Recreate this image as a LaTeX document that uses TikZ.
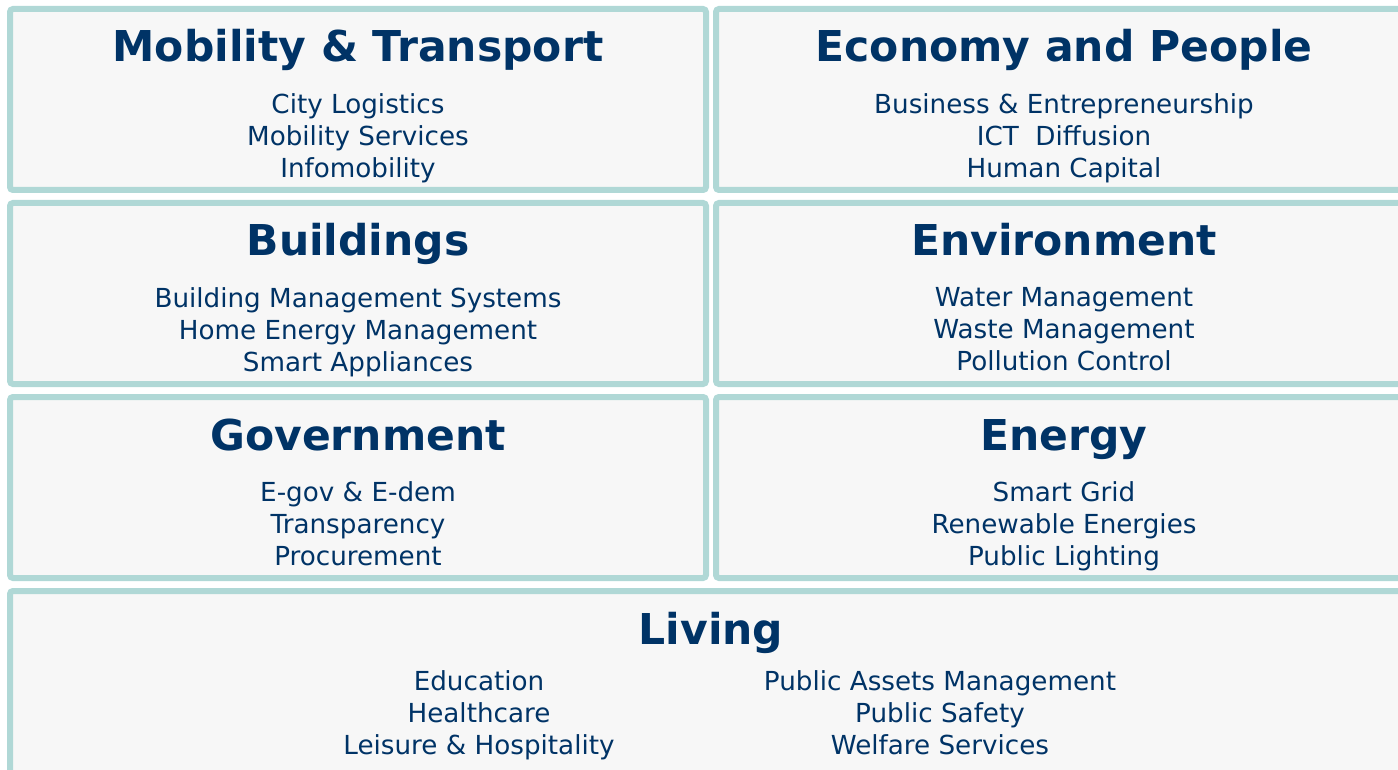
\documentclass[tikz,border=0pt]{standalone}
\usepackage{fontspec}
\setmainfont{DejaVu Sans}
\usepackage{xcolor}
\usetikzlibrary{positioning}

\definecolor{boxline}{HTML}{B0D8D6}
\definecolor{boxfill}{HTML}{F7F7F7}
\definecolor{navy}{HTML}{003366}

\begin{document}
\begin{tikzpicture}[x=1pt,y=-1pt,
                    area/.style={draw=boxline,fill=boxfill,line width=6pt,rounded corners=3pt},
                    title/.style={anchor=base,text=navy,inner sep=0pt,font=\fontsize{42.5}{46}\selectfont\bfseries},
                    items/.style={anchor=north,text=navy,inner sep=0pt,align=center,font=\fontsize{26.2}{32}\selectfont}]

  \useasboundingbox (0,0) rectangle (1398,770);
  \clip (0,0) rectangle (1398,770);

  % boxes
  \draw[area] (10,9) rectangle (706,190);
  \draw[area] (716,9) rectangle (1420,190);
  \draw[area] (10,203) rectangle (706,384);
  \draw[area] (716,203) rectangle (1420,384);
  \draw[area] (10,397) rectangle (706,578);
  \draw[area] (716,397) rectangle (1420,578);
  \draw[area] (10,591) rectangle (1420,800);

  % titles
  \node[title] (mob) at (358,62) {Mobility \& Transport};
  \node[title] (eco) at (1064,62) {Economy and People};
  \node[title] (bui) at (358,256) {Buildings};
  \node[title] (env) at (1064,256) {Environment};
  \node[title] (gov) at (358,450) {Government};
  \node[title] (ene) at (1064,450) {Energy};
  \node[title] (liv) at (711,644) {Living};

  % items
  \node[items] (mobi) at (358,93) {City Logistics\\Mobility Services\\Infomobility};
  \node[items] (ecoi) at (1064,93) {Business \& Entrepreneurship\\ICT\ \ Diffusion\\Human Capital};
  \node[items] (buii) at (358,287) {Building Management Systems\\Home Energy Management\\Smart Appliances};
  \node[items] (envi) at (1064,287) {Water Management\\Waste Management\\Pollution Control};
  \node[items] (govi) at (358,481) {E-gov \& E-dem\\Transparency\\Procurement};
  \node[items] (enei) at (1064,481) {Smart Grid\\Renewable Energies\\Public Lighting};
  \node[items] (livl) at (479,670) {Education\\Healthcare\\Leisure \& Hospitality};
  \node[items] (livr) at (940,670) {Public Assets Management\\Public Safety\\Welfare Services};

\end{tikzpicture}
\end{document}
